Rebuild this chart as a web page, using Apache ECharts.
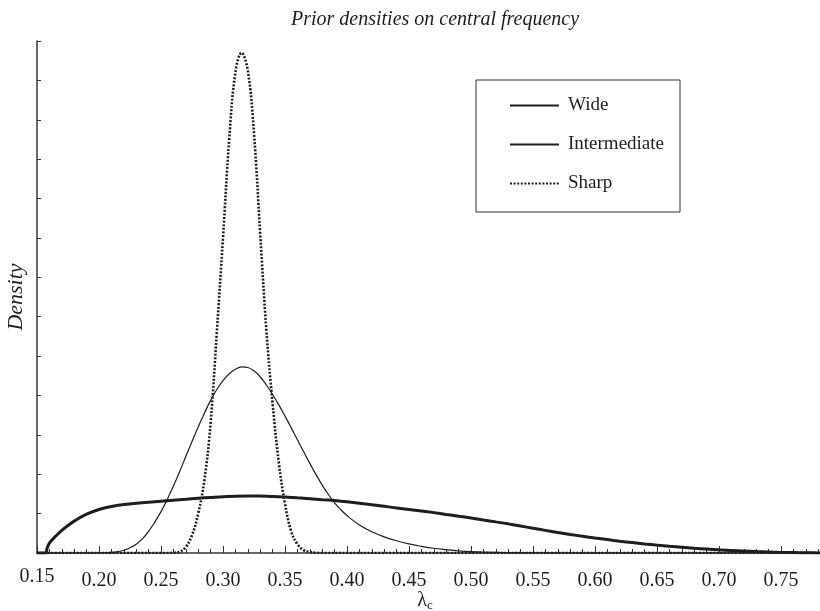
<!DOCTYPE html>
<html>
<head>
<meta charset="utf-8">
<script src="https://cdn.jsdelivr.net/npm/echarts@6/dist/echarts.min.js"></script>
<style>
  html, body { margin: 0; padding: 0; background: #fff; }
  #chart { width: 820px; height: 611px; }
</style>
</head>
<body>
<div id="chart"></div>
<script>
// Prior densities on the central frequency lambda_c
var wideX = [0.15, 0.1573, 0.158, 0.16, 0.165, 0.17, 0.175, 0.18, 0.19, 0.20, 0.21, 0.22, 0.23, 0.24, 0.25, 0.26, 0.27, 0.28, 0.29, 0.30, 0.31, 0.32, 0.33, 0.34, 0.35, 0.36, 0.37, 0.38, 0.39, 0.40, 0.41, 0.42, 0.43, 0.44, 0.45, 0.46, 0.47, 0.48, 0.49, 0.50, 0.51, 0.52, 0.53, 0.54, 0.55, 0.56, 0.57, 0.58, 0.59, 0.60, 0.61, 0.62, 0.63, 0.64, 0.65, 0.66, 0.67, 0.68, 0.69, 0.70, 0.71, 0.72, 0.73, 0.74, 0.75, 0.76, 0.77, 0.78, 0.80];
var wideY = [0, 0, 0.22, 0.5, 0.85, 1.15, 1.4, 1.62, 1.97, 2.21, 2.36, 2.46, 2.53, 2.58, 2.63, 2.68, 2.73, 2.78, 2.82, 2.86, 2.88, 2.89, 2.89, 2.87, 2.84, 2.8, 2.76, 2.71, 2.66, 2.6, 2.53, 2.45, 2.37, 2.29, 2.21, 2.13, 2.05, 1.96, 1.87, 1.78, 1.68, 1.58, 1.48, 1.37, 1.26, 1.15, 1.04, 0.94, 0.85, 0.76, 0.68, 0.6, 0.53, 0.46, 0.4, 0.34, 0.29, 0.24, 0.2, 0.16, 0.13, 0.1, 0.07, 0.05, 0.03, 0.02, 0.01, 0.005, 0];

var interX = [0.15, 0.19, 0.20, 0.205, 0.21, 0.215, 0.22, 0.225, 0.23, 0.235, 0.24, 0.245, 0.25, 0.255, 0.26, 0.265, 0.27, 0.275, 0.28, 0.285, 0.29, 0.295, 0.30, 0.305, 0.31, 0.315, 0.32, 0.325, 0.33, 0.335, 0.34, 0.345, 0.35, 0.355, 0.36, 0.365, 0.37, 0.375, 0.38, 0.385, 0.39, 0.395, 0.40, 0.41, 0.42, 0.43, 0.44, 0.45, 0.46, 0.47, 0.48, 0.49, 0.50, 0.52, 0.55, 0.60, 0.80];
var interY = [0, 0, 0.005, 0.012, 0.03, 0.07, 0.14, 0.27, 0.45, 0.72, 1.1, 1.57, 2.1, 2.72, 3.4, 4.13, 4.9, 5.66, 6.4, 7.1, 7.75, 8.3, 8.75, 9.1, 9.33, 9.45, 9.42, 9.25, 8.95, 8.53, 8.05, 7.52, 6.95, 6.36, 5.75, 5.15, 4.55, 3.98, 3.45, 2.97, 2.55, 2.2, 1.9, 1.42, 1.08, 0.82, 0.62, 0.46, 0.34, 0.24, 0.17, 0.11, 0.07, 0.03, 0.005, 0, 0];

var sharpX = [0.15, 0.20, 0.25, 0.255, 0.26, 0.265, 0.27, 0.275, 0.28, 0.285, 0.29, 0.295, 0.30, 0.305, 0.31, 0.315, 0.32, 0.325, 0.33, 0.335, 0.34, 0.345, 0.35, 0.355, 0.36, 0.365, 0.37, 0.375, 0.38, 0.45, 0.60, 0.80];
var sharpY = [0, 0, 0, 0, 0.01, 0.06, 0.3, 0.9, 2.0, 3.7, 6.6, 11.2, 16.0, 21.0, 24.4, 25.4, 24.5, 21.3, 16.2, 11.3, 7.6, 4.6, 2.5, 1.1, 0.45, 0.15, 0.05, 0.01, 0, 0, 0, 0];

var seriesNames = ['Wide', 'Intermediate', 'Sharp'];

function pairs(xs, ys) {
  return xs.map(function (x, i) { return [x, ys[i]]; });
}

var serif = '"Liberation Serif", "Times New Roman", serif';
var ink = '#1e1e1e';

var chart = echarts.init(document.getElementById('chart'), null, { renderer: 'canvas' });

chart.setOption({
  animation: false,
  backgroundColor: '#ffffff',
  title: {
    text: 'Prior densities on central frequency',
    left: 286,
    top: 5,
    textStyle: { fontFamily: serif, fontStyle: 'italic', fontWeight: 'normal', fontSize: 20, color: ink }
  },
  legend: {
    orient: 'vertical',
    left: 476,
    top: 80,
    data: seriesNames,
    itemWidth: 49,
    itemHeight: 14,
    itemGap: 20,
    padding: [16, 16, 19, 33],
    borderColor: '#333',
    borderWidth: 1,
    itemStyle: { opacity: 0 },
    textStyle: { fontFamily: serif, fontSize: 19, color: ink, padding: [0, 0, 0, 4] }
  },
  grid: { left: 37, top: 41, right: -23, bottom: 58, containLabel: false, outerBoundsMode: 'none' },
  xAxis: {
    type: 'value',
    min: 0.15,
    max: 0.80,
    interval: 0.05,
    name: '{l|λ}{s|c}',
    nameLocation: 'middle',
    nameGap: 37,
    nameMoveOverlap: false,
    nameTextStyle: {
      padding: [0, 30, 0, 0],
      rich: {
        l: { fontFamily: serif, fontSize: 20, color: ink },
        s: { fontFamily: serif, fontSize: 13, color: ink, padding: [9, 0, 0, 0] }
      }
    },
    axisLine: { show: true, onZero: false, lineStyle: { color: '#333', width: 1.5 } },
    axisTick: { show: true, inside: true, length: 7, lineStyle: { color: '#333', width: 1 } },
    minorTick: { show: true, splitNumber: 5, length: 4, lineStyle: { color: '#333', width: 1 } },
    splitLine: { show: false },
    axisLabel: {
      showMaxLabel: false,
      margin: 14,
      fontFamily: serif,
      fontSize: 20,
      color: ink,
      formatter: function (v, i) {
        var s = v.toFixed(2);
        return i === 0 ? s : '{n|' + s + '}';
      },
      rich: { n: { fontFamily: serif, fontSize: 20, color: ink, padding: [4, 0, 0, 0] } }
    }
  },
  yAxis: {
    type: 'value',
    min: 0,
    max: 26,
    interval: 2,
    name: 'Density',
    nameLocation: 'middle',
    nameGap: 10,
    nameMoveOverlap: false,
    nameTextStyle: { fontFamily: serif, fontStyle: 'italic', fontSize: 22, color: ink },
    axisLine: { show: true, lineStyle: { color: '#333', width: 1.5 } },
    axisTick: { show: true, inside: true, length: 4, lineStyle: { color: '#333', width: 1 } },
    axisLabel: { show: false },
    splitLine: { show: false }
  },
  series: [
    {
      name: 'Wide', type: 'line', data: pairs(wideX, wideY),
      showSymbol: false, symbol: 'none', smooth: 0.3, clip: true,
      lineStyle: { color: ink, width: 3 }, itemStyle: { color: ink }
    },
    {
      name: 'Intermediate', type: 'line', data: pairs(interX, interY),
      showSymbol: false, symbol: 'none', smooth: 0.4, clip: true,
      lineStyle: { color: ink, width: 1.2 }, itemStyle: { color: ink }
    },
    {
      name: 'Sharp', type: 'line', data: pairs(sharpX, sharpY),
      showSymbol: false, symbol: 'none', smooth: 0.4, clip: true,
      lineStyle: { color: ink, width: 2.6, type: [2, 1.6] }, itemStyle: { color: ink }
    }
  ]
});
</script>
</body>
</html>
